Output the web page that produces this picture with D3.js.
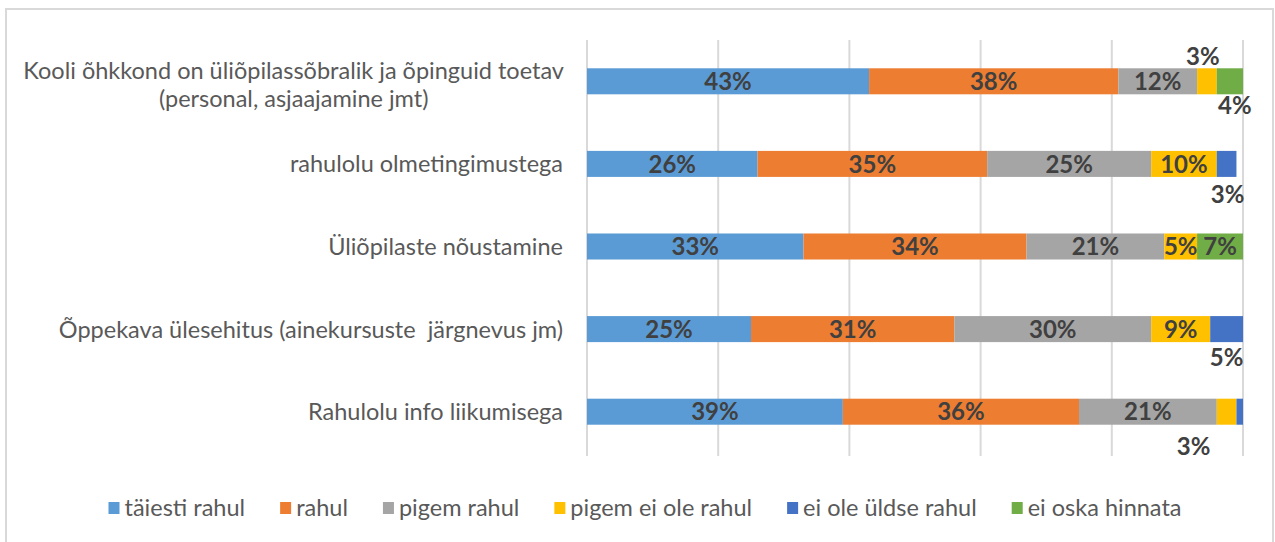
<html>
<head>
  <meta charset="utf-8">
  <title>Rahulolu</title>
  <style>
    body {
      margin: 0;
      padding: 0;
      background-color: #ffffff;
      overflow: hidden;
    }
    svg text {
      font-family: 'Lato', 'Open Sans', sans-serif;
    }
    .cat-label {
      fill: #595959;
      font-size: 23.5px;
      white-space: pre;
    }
    .value-label {
      fill: #404040;
      font-size: 24px;
      font-weight: bold;
    }
    .legend-label {
      fill: #595959;
      font-size: 23.5px;
    }
  </style>
  <script src="https://d3js.org/d3.v7.min.js"></script>
</head>
<body>
  <div id="chart"></div>

  <script>
    // Categories, top to bottom (first one has two lines)
    const categories = [
      ['Kooli õhkkond on üliõpilassõbralik ja õpinguid toetav', '(personal, asjaajamine jmt)'],
      ['rahulolu olmetingimustega'],
      ['Üliõpilaste nõustamine'],
      ['Õppekava ülesehitus (ainekursuste  järgnevus jm)'],
      ['Rahulolu info liikumisega']
    ];

    const seriesNames = ['täiesti rahul', 'rahul', 'pigem rahul', 'pigem ei ole rahul', 'ei ole üldse rahul', 'ei oska hinnata'];
    const seriesColors = ['#5B9BD5', '#ED7D31', '#A5A5A5', '#FFC000', '#4472C4', '#70AD47'];

    // values in %, one array per series, same order as categories
    const taiestiRahul   = [43, 26, 33, 25, 39];
    const rahul          = [38, 35, 34, 31, 36];
    const pigemRahul     = [12, 25, 21, 30, 21];
    const pigemEiOle     = [3, 10, 5, 9, 3];
    const eiOleYldse     = [0, 3, 0, 5, 1];
    const eiOskaHinnata  = [4, 0, 7, 0, 0];

    const xTicks = [0, 20, 40, 60, 80, 100];

    const seriesValues = [taiestiRahul, rahul, pigemRahul, pigemEiOle, eiOleYldse, eiOskaHinnata];

    // labels moved out of small segments (row-series -> dx, dy from segment centre)
    const labelMoves = {
      '0-3': [-4, -25],
      '0-5': [5, 24],
      '1-4': [1, 30],
      '3-4': [0, 28],
      '4-3': [-33, 35]
    };
    const hiddenLabels = { '4-4': true };

    const width = 1275, height = 542;

    const svg = d3.select('#chart')
      .append('svg')
      .attr('width', width)
      .attr('height', height);

    // chart border
    svg.append('rect')
      .attr('x', 6)
      .attr('y', 9)
      .attr('width', 1267)
      .attr('height', 545)
      .attr('fill', 'none')
      .attr('stroke', '#d9d9d9')
      .attr('stroke-width', 2);

    const x = d3.scaleLinear().domain([0, 100]).range([587, 1243]);
    const y = d3.scaleBand()
      .domain(d3.range(categories.length))
      .range([40, 453])
      .paddingInner(0.685)
      .paddingOuter(0.3425);

    // gridlines
    svg.append('g')
      .selectAll('line')
      .data(xTicks)
      .enter()
      .append('line')
      .attr('x1', d => x(d))
      .attr('x2', d => x(d))
      .attr('y1', 40)
      .attr('y2', 456)
      .attr('stroke', '#d9d9d9')
      .attr('stroke-width', 2);

    // stacked data
    const rows = categories.map((c, i) => {
      const r = { idx: i };
      seriesNames.forEach((s, j) => { r[s] = seriesValues[j][i]; });
      return r;
    });
    const stacked = d3.stack().keys(seriesNames)(rows);

    const layers = svg.append('g')
      .selectAll('g')
      .data(stacked)
      .enter()
      .append('g')
      .attr('fill', (d, j) => seriesColors[j]);

    layers.selectAll('rect')
      .data(d => d.filter(p => p[1] - p[0] > 0))
      .enter()
      .append('rect')
      .attr('x', d => x(d[0]))
      .attr('y', d => y(d.data.idx))
      .attr('width', d => x(d[1]) - x(d[0]))
      .attr('height', y.bandwidth());

    // value labels
    const labels = [];
    stacked.forEach((layer, j) => {
      layer.forEach(p => {
        const v = p[1] - p[0];
        const key = p.data.idx + '-' + j;
        if (v <= 0 || hiddenLabels[key]) return;
        const move = labelMoves[key] || [0, 0];
        labels.push({
          text: v + '%',
          x: (x(p[0]) + x(p[1])) / 2 + move[0],
          y: y(p.data.idx) + y.bandwidth() / 2 + move[1]
        });
      });
    });

    svg.append('g')
      .selectAll('text')
      .data(labels)
      .enter()
      .append('text')
      .attr('class', 'value-label')
      .attr('x', d => d.x)
      .attr('y', d => d.y)
      .attr('text-anchor', 'middle')
      .attr('dy', '0.36em')
      .text(d => d.text);

    // category labels
    const catG = svg.append('g');
    categories.forEach((lines, i) => {
      const cy = y(i) + y.bandwidth() / 2;
      if (lines.length === 1) {
        catG.append('text')
          .attr('class', 'cat-label')
          .attr('x', 563)
          .attr('y', cy)
          .attr('dy', '0.36em')
          .attr('text-anchor', 'end')
          .text(lines[0]);
      } else {
        const first = catG.append('text')
          .attr('class', 'cat-label')
          .attr('x', 564)
          .attr('y', cy - 11)
          .attr('dy', '0.36em')
          .attr('text-anchor', 'end')
          .text(lines[0]);
        const w = first.node().getComputedTextLength();
        catG.append('text')
          .attr('class', 'cat-label')
          .attr('x', 564 - w / 2)
          .attr('y', cy + 17)
          .attr('dy', '0.36em')
          .attr('text-anchor', 'middle')
          .text(lines[1]);
      }
    });

    // legend, centred
    const legend = svg.append('g');
    let lx = 0;
    seriesNames.forEach((name, j) => {
      const item = legend.append('g').attr('transform', `translate(${lx},0)`);
      item.append('rect')
        .attr('x', 0)
        .attr('y', -6)
        .attr('width', 11)
        .attr('height', 12)
        .attr('fill', seriesColors[j]);
      const t = item.append('text')
        .attr('class', 'legend-label')
        .attr('x', 16)
        .attr('y', 0)
        .attr('dy', '0.36em')
        .text(name);
      lx += 16 + t.node().getComputedTextLength() + 35;
    });
    const legendW = lx - 35;
    legend.attr('transform', `translate(${645 - legendW / 2},508)`);
  </script>
</body>
</html>
